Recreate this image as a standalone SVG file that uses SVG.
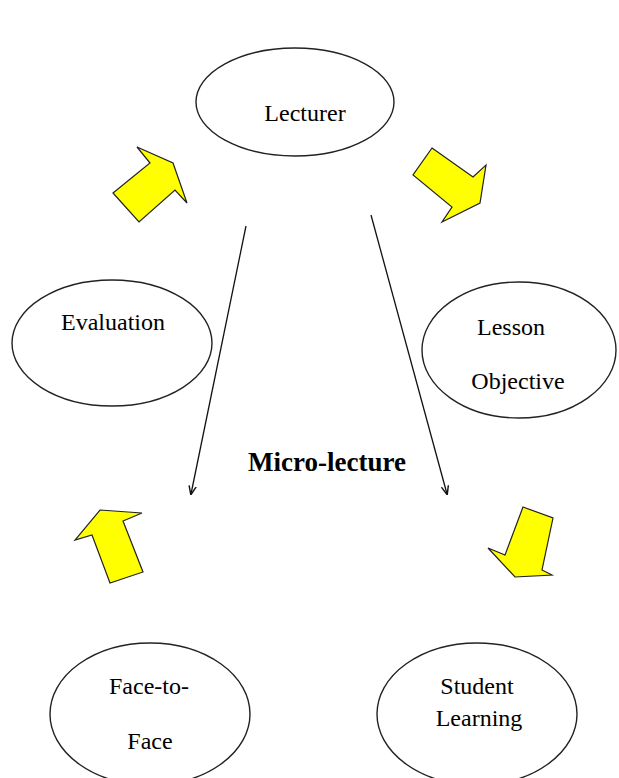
<svg xmlns="http://www.w3.org/2000/svg" width="619" height="778" viewBox="0 0 619 778">
<style>
.node ellipse{fill:#fff;stroke:#222;stroke-width:1.4}
text{font-family:"Liberation Serif","Times New Roman","DejaVu Serif",serif;font-size:24px;fill:#000;text-anchor:middle}
.blk{fill:#ffff00;stroke:#222;stroke-width:1.2;stroke-linejoin:miter}
.ln{stroke:#111;stroke-width:1.3;fill:none;marker-end:url(#ah)}
</style>
<defs>
<marker id="ah" viewBox="0 0 10 10" refX="9" refY="5" markerWidth="9" markerHeight="9" markerUnits="userSpaceOnUse" orient="auto">
<path d="M0,1 L10,5 L0,9" fill="none" stroke="#111" stroke-width="1.6"/>
</marker>
</defs>
<rect width="619" height="778" fill="#fff"/>
<g id="lecturer" class="node"><ellipse cx="295" cy="102" rx="99" ry="54"/><text x="305" y="121">Lecturer</text></g>
<g id="evaluation" class="node"><ellipse cx="112" cy="343" rx="100" ry="63"/><text x="113" y="330">Evaluation</text></g>
<g id="lesson" class="node"><ellipse cx="519" cy="350" rx="97" ry="68"/><text x="511" y="335">Lesson</text><text x="518" y="389">Objective</text></g>
<g id="facetoface" class="node"><ellipse cx="150" cy="714" rx="100" ry="71"/><text x="149" y="694">Face-to-</text><text x="150" y="749">Face</text></g>
<g id="student" class="node"><ellipse cx="477" cy="714" rx="100" ry="71"/><text x="477" y="694">Student</text><text x="479" y="726">Learning</text></g>
<g id="title"><text x="327" y="471" style="font-weight:bold;font-size:27px">Micro-lecture</text></g>
<g id="connectors">
<line class="ln" x1="246" y1="226" x2="191" y2="494"/>
<line class="ln" x1="371" y1="215" x2="447" y2="494"/>
<polygon class="blk" points="113,193 150,163 137,147 173,163 187,203 175,190 139,222"/>
<polygon class="blk" points="432,148 473,177 486,165 480,203 442,222 452,207 413,175"/>
<polygon class="blk" points="100,510 142,513 123,521 143,572 110,583 92,535 75,540"/>
<polygon class="blk" points="523,507 553,518 542,570 552,575 515,577 488,548 505,555"/>
</g>
</svg>
